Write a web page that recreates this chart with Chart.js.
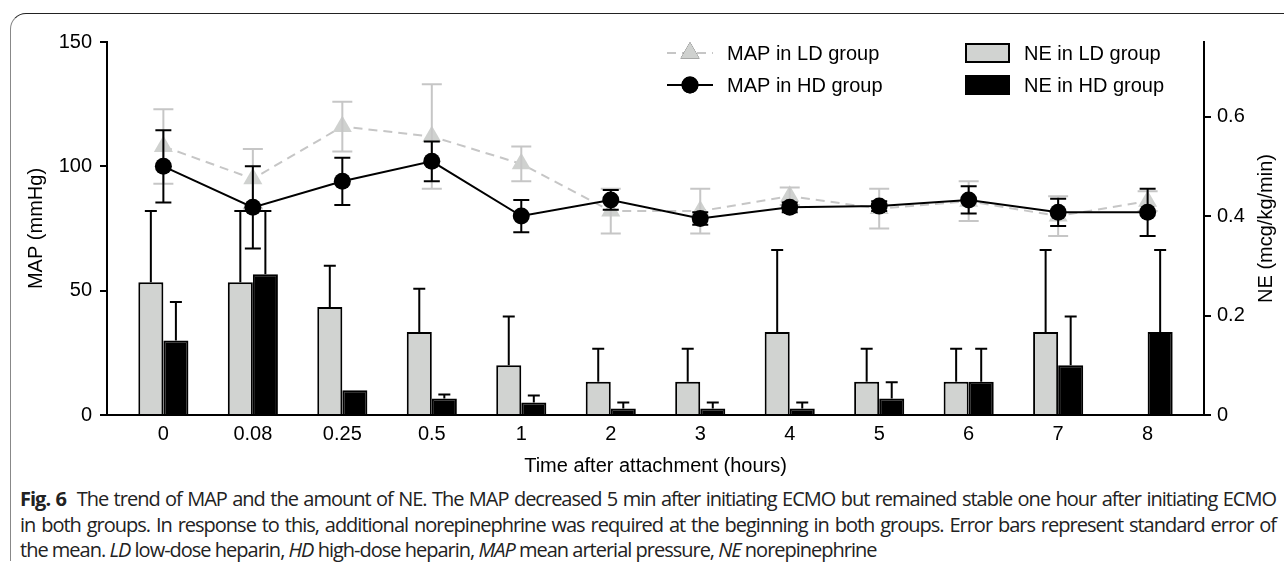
<!DOCTYPE html>
<html>
<head>
<meta charset="utf-8">
<script src="https://cdn.jsdelivr.net/npm/chart.js@4.4.0/dist/chart.umd.min.js"></script>
<style>
  html, body { margin: 0; padding: 0; background: #fff; }
  body { width: 1284px; height: 571px; position: relative; overflow: hidden; }
  #frame {
    position: absolute; left: 10px; top: 13px; width: 1300px; height: 548px;
    border-top: 1.5px solid #222; border-left: 1.5px solid #888;
    border-top-left-radius: 16px; box-sizing: border-box;
  }
  #chart { position: absolute; left: 0; top: 0; }
  #caption {
    position: absolute; left: 20px; top: 486px; width: 1256px;
    font-family: 'Open Sans', 'Noto Sans', sans-serif; font-size: 20px;
    letter-spacing: -1px; color: #222; line-height: 25.5px;
  }
  #caption div { white-space: nowrap; }
  #caption .j { text-align: justify; text-align-last: justify; }
  #caption b { font-weight: 700; }
</style>
</head>
<body>
<div id="frame"></div>
<canvas id="chart" width="1284" height="480"></canvas>
<div id="caption">
  <div class="j"><b>Fig. 6</b>&nbsp; The trend of MAP and the amount of NE. The MAP decreased 5 min after initiating ECMO but remained stable one hour after initiating ECMO</div>
  <div class="j">in both groups. In response to this, additional norepinephrine was required at the beginning in both groups. Error bars represent standard error of</div>
  <div>the mean. <i>LD</i> low-dose heparin, <i>HD</i> high-dose heparin, <i>MAP</i> mean arterial pressure, <i>NE</i> norepinephrine</div>
</div>
<script>
// time points (hours)
var categories = ['0', '0.08', '0.25', '0.5', '1', '2', '3', '4', '5', '6', '7', '8'];

// MAP (mmHg), mean and SE
var mapLD    = [108, 95, 116, 112, 101, 82, 82, 88, 83, 86, 80, 86];
var mapLDErr = [15, 12, 10, 21, 7, 9, 9, 3.5, 8, 8, 8, 4];
var mapHD    = [100, 83.5, 94, 102, 80, 86.5, 79, 83.5, 84, 86.5, 81.5, 81.5];
var mapHDErr = [14.5, 16.5, 9.5, 8, 6.5, 4, 2.5, 2, 2, 5.5, 5.5, 9.5];

// NE (mcg/kg/min), mean and SE
var neLD    = [0.267, 0.267, 0.217, 0.167, 0.1, 0.067, 0.067, 0.167, 0.067, 0.067, 0.167, 0];
var neLDErr = [0.143, 0.143, 0.083, 0.087, 0.098, 0.066, 0.066, 0.165, 0.066, 0.066, 0.165, 0];
var neHD    = [0.15, 0.283, 0.05, 0.033, 0.025, 0.013, 0.013, 0.013, 0.033, 0.067, 0.1, 0.167];
var neHDErr = [0.077, 0.127, 0, 0.008, 0.014, 0.012, 0.012, 0.012, 0.033, 0.066, 0.098, 0.165];

var mapTicks = [0, 50, 100, 150];
var neTicks = [0, 0.2, 0.4, 0.6];

function pts(arr) {
  return arr.map(function(v, i){ return {x: i, y: v}; });
}

Chart.defaults.font.family = "'Liberation Sans', Arial, sans-serif";
Chart.defaults.font.size = 20;
Chart.defaults.color = '#000';

var errorBars = {
  id: 'errorBars',
  afterDatasetDraw: function(chart, args) {
    var ds = chart.data.datasets[args.index];
    if (!ds.errors) return;
    var yScale = chart.scales[ds.yAxisID];
    var ctx = chart.ctx;
    ctx.save();
    ctx.strokeStyle = ds.errorColor;
    ctx.lineWidth = 2;
    args.meta.data.forEach(function(el, i){
      var e = ds.errors[i];
      if (!e) return;
      var v = ds.data[i].y;
      var x = el.x;
      var top = yScale.getPixelForValue(v + e);
      var bottom = ds.errorBoth ? yScale.getPixelForValue(v - e) : el.y;
      var c = ds.capWidth / 2;
      ctx.beginPath();
      ctx.moveTo(x, bottom); ctx.lineTo(x, top);
      ctx.moveTo(x - c, top); ctx.lineTo(x + c, top);
      if (ds.errorBoth) { ctx.moveTo(x - c, bottom); ctx.lineTo(x + c, bottom); }
      ctx.stroke();
    });
    ctx.restore();
  }
};

var extras = {
  id: 'extras',
  afterDraw: function(chart) {
    var ctx = chart.ctx;
    var ds = chart.data.datasets;
    var area = chart.chartArea;
    ctx.save();
    // right axis title
    ctx.font = "20px 'Liberation Sans', Arial, sans-serif";
    ctx.fillStyle = '#000';
    ctx.textAlign = 'center';
    ctx.textBaseline = 'middle';
    ctx.translate(1266, (area.top + area.bottom) / 2);
    ctx.rotate(-Math.PI / 2);
    ctx.fillText('NE (mcg/kg/min)', 0, 0);
    ctx.restore();

    // legend
    ctx.save();
    ctx.font = "20px 'Liberation Sans', Arial, sans-serif";
    ctx.textBaseline = 'middle';
    ctx.textAlign = 'left';
    var rows = [53, 85];
    [0, 1].forEach(function(k){
      var d = ds[k], y = rows[k];
      ctx.strokeStyle = d.borderColor;
      ctx.lineWidth = d.borderWidth;
      ctx.setLineDash(d.borderDash || []);
      ctx.beginPath(); ctx.moveTo(667, y); ctx.lineTo(713, y); ctx.stroke();
      ctx.setLineDash([]);
      Chart.helpers.drawPoint(ctx, {pointStyle: d.pointStyle, radius: d.pointRadius, borderWidth: 0}, 690, y);
      ctx.fillStyle = d.pointBackgroundColor;
      ctx.fill();
      ctx.fillStyle = '#000';
      ctx.fillText(d.label, 727, y + 1);
    });
    [2, 3].forEach(function(k, j){
      var d = ds[k], y = rows[j];
      ctx.fillStyle = d.backgroundColor;
      ctx.fillRect(965, y - 10, 45, 20);
      ctx.strokeStyle = d.borderColor;
      ctx.lineWidth = 2;
      ctx.strokeRect(966, y - 9, 43, 18);
      ctx.fillStyle = '#000';
      ctx.fillText(d.label, 1024, y + 1);
    });
    ctx.restore();
  }
};

var ctx = document.getElementById('chart').getContext('2d');
new Chart(ctx, {
  type: 'bar',
  data: {
    datasets: [
      {
        type: 'line', label: 'MAP in LD group', data: pts(mapLD), yAxisID: 'y', order: 1,
        borderColor: '#c6c6c6', borderWidth: 2, borderDash: [9, 6],
        pointStyle: 'triangle', pointRadius: 11, pointBackgroundColor: '#cfd1cf', pointBorderWidth: 0,
        errors: mapLDErr, errorColor: '#c6c6c6', errorBoth: true, capWidth: 20
      },
      {
        type: 'line', label: 'MAP in HD group', data: pts(mapHD), yAxisID: 'y', order: 0,
        borderColor: '#000', borderWidth: 2,
        pointStyle: 'circle', pointRadius: 8.5, pointBackgroundColor: '#000', pointBorderWidth: 0,
        errors: mapHDErr, errorColor: '#000', errorBoth: true, capWidth: 16
      },
      {
        label: 'NE in LD group', data: pts(neLD), yAxisID: 'y1', order: 2,
        backgroundColor: '#d1d3d1', borderColor: '#000', borderWidth: 2,
        categoryPercentage: 0.56, barPercentage: 1,
        errors: neLDErr, errorColor: '#000', errorBoth: false, capWidth: 12
      },
      {
        label: 'NE in HD group', data: pts(neHD), yAxisID: 'y1', order: 2,
        backgroundColor: '#000', borderColor: '#000', borderWidth: 2,
        categoryPercentage: 0.56, barPercentage: 1,
        errors: neHDErr, errorColor: '#000', errorBoth: false, capWidth: 12
      }
    ]
  },
  options: {
    responsive: false,
    animation: false,
    devicePixelRatio: 1,
    events: [],
    layout: { padding: { top: 42, left: 0, right: 0, bottom: 0 } },
    plugins: { legend: { display: false }, tooltip: { enabled: false } },
    scales: {
      x: {
        type: 'linear', min: -0.63, max: 11.63, offset: false,
        grid: { display: false, drawTicks: false },
        border: { display: true, color: '#000', width: 2 },
        afterBuildTicks: function(s){ s.ticks = categories.map(function(c, i){ return {value: i}; }); },
        afterFit: function(s){ s.height = 65; },
        ticks: {
          padding: 7, autoSkip: false, maxRotation: 0,
          callback: function(v){ return categories[v]; }
        },
        title: { display: true, text: 'Time after attachment (hours)', padding: { top: 0, bottom: 2 } }
      },
      y: {
        position: 'left', min: 0, max: 150,
        afterBuildTicks: function(s){ s.ticks = mapTicks.map(function(v){ return {value: v}; }); },
        afterFit: function(s){ s.width = 107; },
        grid: { drawOnChartArea: false, drawTicks: true, tickLength: 7, color: '#000', lineWidth: 2 },
        border: { display: true, color: '#000', width: 2 },
        ticks: { padding: 8 },
        title: { display: true, text: 'MAP (mmHg)', padding: { top: 24, bottom: 0 } }
      },
      y1: {
        position: 'right', min: 0, max: 0.75,
        afterBuildTicks: function(s){ s.ticks = neTicks.map(function(v){ return {value: v}; }); },
        afterFit: function(s){ s.width = 80; },
        grid: { drawOnChartArea: false, drawTicks: true, tickLength: 7, color: '#000', lineWidth: 2 },
        border: { display: true, color: '#000', width: 2 },
        ticks: { padding: 6, callback: function(v){ return String(v); } }
      }
    }
  },
  plugins: [errorBars, extras]
});
</script>
</body>
</html>
